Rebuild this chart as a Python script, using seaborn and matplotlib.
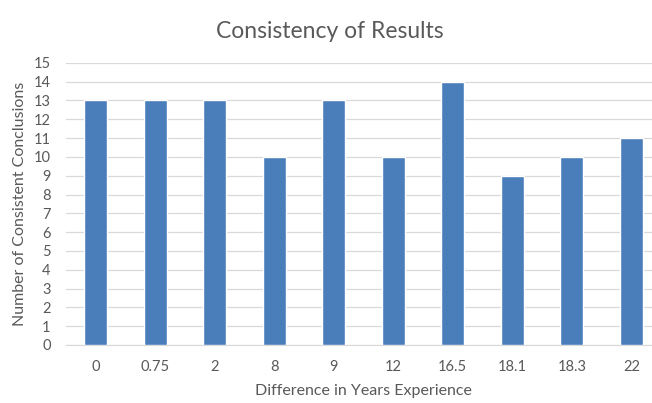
import matplotlib
matplotlib.use("Agg")
import matplotlib.pyplot as plt
import seaborn as sns
import pandas as pd

categories = ["0", "0.75", "2", "8", "9", "12", "16.5", "18.1", "18.3", "22"]
values = [13, 13, 13, 10, 13, 10, 14, 9, 10, 11]
yticks = list(range(0, 16))

df = pd.DataFrame({"cat": categories, "val": values})

sns.set_style("white")
plt.rcParams["font.family"] = ["Lato", "DejaVu Sans"]

fig = plt.figure(figsize=(6.52, 4.03), dpi=100)
ax = fig.add_axes([0.101, 0.144, 0.913, 0.700])
sns.barplot(data=df, x="cat", y="val", color="#4a7ebb", saturation=1, width=0.39, ax=ax, zorder=3)
ax.set_ylim(0, 15)
ax.set_yticks(yticks)
ax.yaxis.grid(True, color="#d9d9d9", linewidth=0.9, zorder=0)
ax.set_axisbelow(True)
for s in ["top", "right", "left"]:
    ax.spines[s].set_visible(False)
ax.spines["bottom"].set_color("#d9d9d9")
ax.tick_params(axis="both", length=0, labelsize=10.5, colors="#595959")
ax.tick_params(axis="x", pad=11)
ax.tick_params(axis="y", pad=11)
ax.set_xlabel("Difference in Years Experience", fontsize=11.5, color="#595959", labelpad=7)
ax.set_ylabel("Number of Consistent Conclusions", fontsize=11.5, color="#595959", labelpad=5)
fig.suptitle("Consistency of Results", fontsize=16.5, color="#595959", x=0.506, y=0.948)
fig.savefig("out.png", dpi=100)
